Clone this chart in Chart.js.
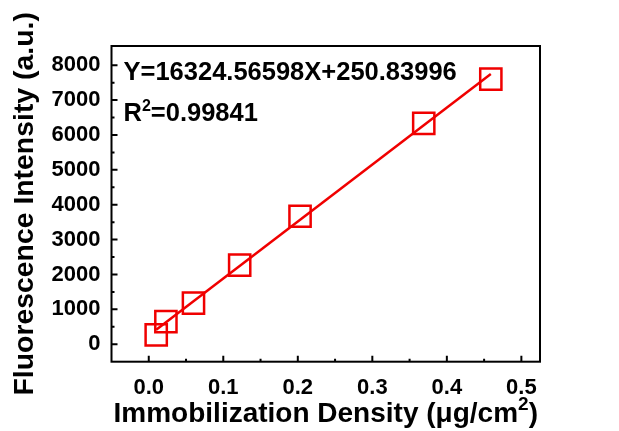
<!DOCTYPE html>
<html>
<head>
<meta charset="utf-8">
<title>Fluorescence vs Immobilization Density</title>
<style>
  html, body { margin: 0; padding: 0; background: #fff; }
  #wrap { width: 619px; height: 431px; }
</style>
</head>
<body>
<div id="wrap"><canvas id="fitChart"></canvas></div>
<script src="https://cdn.jsdelivr.net/npm/chart.js@4.4.1/dist/chart.umd.min.js"></script>
<script>
// measured points
const densityX = [0.010, 0.023, 0.060, 0.122, 0.203, 0.369, 0.459];
const intensityY = [270, 650, 1180, 2270, 3670, 6330, 7600];

// fit line endpoints
const fitLineX = [0.010, 0.459];
const fitLineY = [414, 7744];

// ticks
const xTicks = [0.0, 0.1, 0.2, 0.3, 0.4, 0.5];
const xMinorTicks = [0.05, 0.15, 0.25, 0.35, 0.45];
const yTicks = [0, 1000, 2000, 3000, 4000, 5000, 6000, 7000, 8000];
const yMinorTicks = [500, 1500, 2500, 3500, 4500, 5500, 6500, 7500];

const fitText = 'Y=16324.56598X+250.83996';
const r2Text = '=0.99841';
const xTitle = 'Immobilization Density (μg/cm';
const yTitle = 'Fluorescence Intensity (a.u.)';

const RED = '#f00000';
const FONT = "'Liberation Sans', Arial, sans-serif";

// frame, inward ticks, x title with superscript and the fit equation
const framePlugin = {
    id: 'frame',
    afterDraw(chart) {
        const ctx = chart.ctx;
        const a = chart.chartArea;
        const xs = chart.scales.x;
        const ys = chart.scales.y;
        ctx.save();
        ctx.strokeStyle = '#000';
        ctx.lineWidth = 2;
        ctx.strokeRect(a.left, a.top, a.right - a.left, a.bottom - a.top);

        ctx.beginPath();
        xTicks.forEach(v => {
            const px = xs.getPixelForValue(v);
            ctx.moveTo(px, a.bottom); ctx.lineTo(px, a.bottom - 6);
        });
        xMinorTicks.forEach(v => {
            const px = xs.getPixelForValue(v);
            ctx.moveTo(px, a.bottom); ctx.lineTo(px, a.bottom - 3);
        });
        yTicks.forEach(v => {
            const py = ys.getPixelForValue(v);
            ctx.moveTo(a.left, py); ctx.lineTo(a.left + 6, py);
        });
        yMinorTicks.forEach(v => {
            const py = ys.getPixelForValue(v);
            ctx.moveTo(a.left, py); ctx.lineTo(a.left + 3, py);
        });
        ctx.stroke();

        ctx.fillStyle = '#000';
        ctx.textBaseline = 'alphabetic';
        ctx.textAlign = 'left';

        // equation + R^2
        ctx.font = 'bold 25.5px ' + FONT;
        const tx = a.left + 12;
        ctx.fillText(fitText, tx, 80);
        ctx.fillText('R', tx, 121);
        const rw = ctx.measureText('R').width;
        ctx.font = 'bold 16px ' + FONT;
        ctx.fillText('2', tx + rw, 111);
        const sw = ctx.measureText('2').width;
        ctx.font = 'bold 25.5px ' + FONT;
        ctx.fillText(r2Text, tx + rw + sw, 121);

        // x axis title
        ctx.font = 'bold 28px ' + FONT;
        const w1 = ctx.measureText(xTitle).width;
        const w3 = ctx.measureText(')').width;
        ctx.font = 'bold 19px ' + FONT;
        const w2 = ctx.measureText('2').width;
        let x0 = (a.left + a.right) / 2 - (w1 + w2 + w3) / 2;
        ctx.font = 'bold 28px ' + FONT;
        ctx.fillText(xTitle, x0, 422);
        ctx.font = 'bold 19px ' + FONT;
        ctx.fillText('2', x0 + w1, 410);
        ctx.font = 'bold 28px ' + FONT;
        ctx.fillText(')', x0 + w1 + w2, 422);
        ctx.restore();
    }
};

const ctx = document.getElementById('fitChart').getContext('2d');
const chart = new Chart(ctx, {
    type: 'scatter',
    data: {
        datasets: [{
            label: 'fit',
            data: fitLineX.map((x, i) => ({x: x, y: fitLineY[i]})),
            showLine: true,
            borderColor: RED,
            borderWidth: 2.5,
            pointRadius: 0,
            order: 2
        }, {
            label: 'data',
            data: densityX.map((x, i) => ({x: x, y: intensityY[i]})),
            pointStyle: 'rect',
            pointRadius: 15,
            pointBorderWidth: 2.5,
            borderColor: RED,
            backgroundColor: 'rgba(0,0,0,0)',
            order: 1
        }]
    },
    options: {
        responsive: true,
        maintainAspectRatio: false,
        animation: false,
        events: [],
        layout: { padding: { top: 46, right: 79, left: 0, bottom: 0 } },
        plugins: { legend: { display: false }, tooltip: { enabled: false } },
        scales: {
            x: {
                type: 'linear',
                min: -0.05,
                max: 0.525,
                grid: { display: false, drawTicks: false },
                border: { display: false },
                afterBuildTicks: s => { s.ticks = xTicks.map(v => ({value: v})); },
                afterFit: s => { s.height = 69.3; },
                ticks: {
                    color: '#000',
                    padding: 13,
                    maxRotation: 0,
                    font: { family: FONT, size: 22, weight: 'bold' },
                    callback: v => v.toFixed(1)
                },
                title: { display: false }
            },
            y: {
                type: 'linear',
                min: -500,
                max: 8550,
                grid: { display: false, drawTicks: false },
                border: { display: false },
                afterBuildTicks: s => { s.ticks = yTicks.map(v => ({value: v})); },
                afterFit: s => { s.width = 111.5; },
                ticks: {
                    color: '#000',
                    padding: 11,
                    font: { family: FONT, size: 22, weight: 'bold' },
                    callback: v => String(v)
                },
                title: {
                    display: true,
                    text: yTitle,
                    color: '#000',
                    padding: { top: 11, bottom: 0 },
                    font: { family: FONT, size: 28.4, weight: 'bold', lineHeight: 1 }
                }
            }
        }
    },
    plugins: [framePlugin]
});
</script>
</body>
</html>
